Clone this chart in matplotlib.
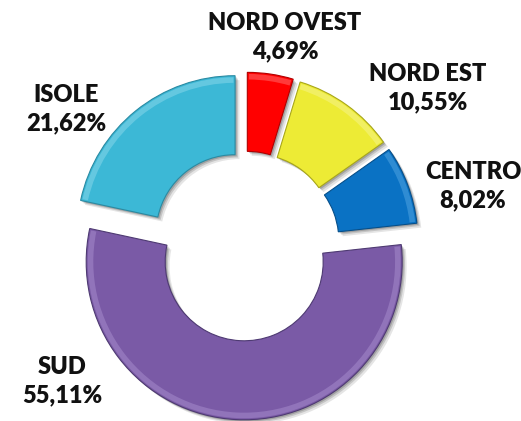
import matplotlib
matplotlib.use("Agg")
import matplotlib.pyplot as plt
from matplotlib.patches import Wedge

labels = ["NORD OVEST", "NORD EST", "CENTRO", "SUD", "ISOLE"]
values = [4.69, 10.55, 8.02, 55.11, 21.62]
value_text = ["4,69%", "10,55%", "8,02%", "55,11%", "21,62%"]
colors = ["#FF0000", "#EDEB35", "#0A72C4", "#7A5AA6", "#3CB8D6"]
light_colors = ["#FF6A6A", "#F6F48A", "#4FA3E0", "#A58ACB", "#86D6EA"]
edge_colors = ["#B00000", "#A8A61A", "#064F8A", "#4E3A72", "#2A8AA2"]

# label anchor positions (data coords, layout only)
label_pos = [(0.253, 1.323), (1.158, 1.0), (1.443, 0.38), (-1.158, -0.854), (-1.133, 0.867)]

W, H = 521, 421
fig = plt.figure(figsize=(W / 100, H / 100), dpi=100)
ax = fig.add_axes([0, 0, 1, 1])
cx_px, cy_px, R_px = 245, 246, 158
xl = (-cx_px / R_px, (W - cx_px) / R_px)
yl = (-(H - cy_px) / R_px, cy_px / R_px)
ax.set_xlim(*xl)
ax.set_ylim(*yl)
ax.set_aspect("equal")
ax.axis("off")

wedges, _ = ax.pie(values, colors=colors, startangle=90, counterclock=False,
                   explode=[0.1] * len(values), radius=1.0,
                   wedgeprops=dict(width=0.5, linewidth=0.8, zorder=3))
for w, ec, lc in zip(wedges, edge_colors, light_colors):
    w.set_edgecolor(ec)
    cxw, cyw = w.center
    # soft shadow
    for k, a in [(0.028, 0.10), (0.018, 0.14), (0.010, 0.18)]:
        sh = Wedge((cxw + k, cyw - k), w.r, w.theta1, w.theta2, width=w.width,
                   facecolor="#000000", edgecolor="none", alpha=a, zorder=2)
        ax.add_patch(sh)
    # bevel highlight ring just inside the outer edge
    hl = Wedge((cxw, cyw), w.r - 0.01, w.theta1 + 0.6, w.theta2 - 0.6, width=0.035,
               facecolor=lc, edgecolor="none", alpha=0.55, zorder=4)
    ax.add_patch(hl)
ax.set_xlim(*xl)
ax.set_ylim(*yl)

for name, vt, (x, y) in zip(labels, value_text, label_pos):
    ax.text(x, y, f"{name}\n{vt}", ha="center", va="center",
            fontsize=17, fontweight="heavy", family=["Lato", "DejaVu Sans"],
            linespacing=1.35, color="#111111")

fig.savefig("out.png", dpi=100)
